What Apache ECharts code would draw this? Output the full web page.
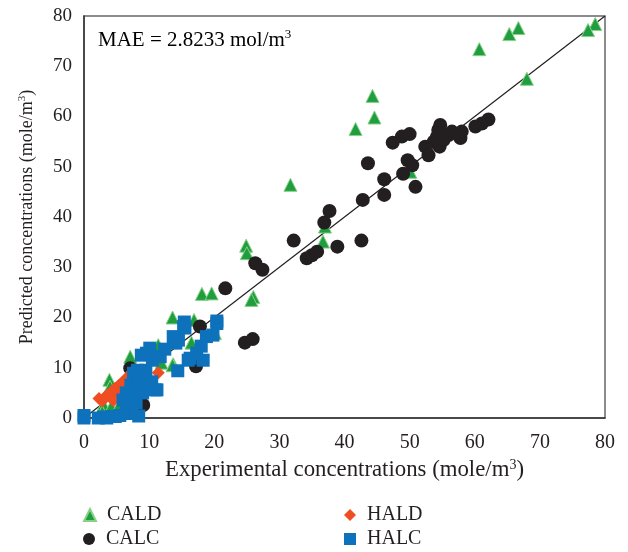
<!DOCTYPE html>
<html>
<head>
<meta charset="utf-8">
<script src="https://cdn.jsdelivr.net/npm/echarts@6/dist/echarts.min.js"></script>
<style>html,body{margin:0;padding:0;background:#fff}#c{width:628px;height:552px}</style>
</head>
<body>
<div id="c"></div>
<script>
const xTicks = [0,10,20,30,40,50,60,70,80];
const yTicks = [0,10,20,30,40,50,60,70,80];
const seriesNames = ['CALD','CALC','HALD','HALC'];
const diagonal = [[0,0],[80,80]];
const cald = [[78.5,78.4],[77.4,77.2],[66.7,77.6],[65.3,76.4],[60.7,73.4],[68.0,67.5],[44.3,64.1],[44.6,59.8],[41.7,57.5],[31.7,46.4],[50.1,49.0],[37.0,38.1],[36.7,35.1],[24.9,34.3],[25.0,32.8],[18.1,24.7],[19.6,24.8],[26.0,24.1],[25.7,23.5],[13.6,20.0],[16.9,19.5],[20.1,16.9],[16.5,15.0],[11.4,14.5],[7.1,12.2],[13.7,10.7],[11.9,11.0],[3.9,7.6],[4.0,6.2],[13.6,10.5],[3.0,2.6],[4.2,2.3],[2.8,1.2],[5.5,2.8],[6.0,1.5]];
const calc = [[26.3,30.8],[27.4,29.5],[32.2,35.3],[34.2,31.8],[35.0,32.4],[35.8,33.1],[38.9,34.1],[42.6,35.3],[36.9,38.9],[37.7,41.2],[42.8,43.4],[43.6,50.7],[46.1,47.5],[46.1,44.4],[47.4,54.8],[48.8,56.0],[50.0,56.5],[49.0,48.6],[49.7,51.3],[50.4,50.3],[50.9,46.0],[52.4,54.0],[52.9,52.3],[53.7,55.0],[54.2,56.0],[54.4,57.3],[54.7,58.3],[54.6,54.0],[55.2,55.3],[56.0,56.3],[56.5,57.0],[57.8,55.7],[58.0,57.0],[60.1,58.0],[61.1,58.6],[62.1,59.4],[21.7,25.8],[17.8,18.2],[24.7,15.0],[25.9,15.7],[17.2,10.3],[7.1,9.9],[9.1,2.6],[6.5,3.0]];
const hald = [[2.3,3.9],[2.8,3.4],[3.3,4.3],[3.8,4.8],[4.3,5.3],[4.8,5.9],[5.3,6.4],[5.8,7.0],[6.3,7.6],[6.8,8.3],[7.3,9.0],[7.8,9.6],[11.4,9.0],[7.0,1.0],[5.5,4.5],[6.0,5.5],[4.5,3.5]];
const halc = [[0,0],[0,0.5],[2.2,0],[3.0,0.2],[3.5,0],[4.2,0.3],[4.8,0.3],[5.5,0.5],[6.6,0.9],[8.4,0.4],[6.0,3.6],[6.5,2.5],[7.0,4.5],[7.5,5.5],[7.2,6.5],[7.8,7.5],[7.6,8.9],[8.2,9.5],[8.5,8.0],[9.1,6.9],[9.5,9.5],[9.6,12.9],[10.1,13.9],[10.5,11.5],[11.2,5.6],[11.7,12.2],[12.4,13.7],[13.7,16.2],[14.1,14.9],[14.4,9.4],[14.5,15.5],[15.3,18.2],[15.4,19.1],[15.5,17.9],[16.0,11.5],[16.3,11.9],[17.3,12.9],[18.0,14.3],[18.3,11.5],[18.8,16.2],[19.8,16.5],[20.4,18.8],[20.4,19.3],[8.0,3.0],[9.0,5.0],[8.8,12.5],[10.9,5.6],[10.4,7.2],[7.3,2.9],[6.5,5.0]];

const FONT = '"Liberation Serif", "DejaVu Serif", serif';
const TXT = '#231f20';
const chart = echarts.init(document.getElementById('c'), null, {renderer: 'canvas'});
function supRich(size) {
  return {
    n: {fontFamily: FONT, fontSize: size, color: TXT},
    s: {fontFamily: FONT, fontSize: Math.round(size * 0.62), color: TXT, verticalAlign: 'top', padding: [0,0,Math.round(size*0.5),0]}
  };
}
const axisCommon = {
  type: 'value', min: 0, max: 80, interval: 10,
  splitLine: {show: false},
  axisTick: {show: false},
  axisLine: {show: true, lineStyle: {color: '#333', width: 1.5}},
  nameLocation: 'middle'
};
const legendText = {fontFamily: FONT, fontSize: 20, color: TXT, lineHeight: 20, padding: [0,0,0,6]};
function oneLegend(name, left, top) {
  return {data: [name], left: left, top: top, itemWidth: 12, itemHeight: 12, padding: 0,
          textStyle: legendText};
}
chart.setOption({
  animation: false,
  backgroundColor: '#fff',
  grid: {left: 84, right: 23, top: 16, bottom: 134, show: true, borderColor: '#666', borderWidth: 1.5},
  xAxis: Object.assign({}, axisCommon, {
    name: '{n|Experimental concentrations (mole/m}{s|3}{n|)}', nameGap: 40,
    nameTextStyle: {rich: supRich(22.8)},
    axisLabel: {fontFamily: FONT, fontSize: 20, color: TXT, margin: 15}
  }),
  yAxis: Object.assign({}, axisCommon, {
    name: '{n|Predicted concentrations (mole/m}{s|3}{n|)}', nameGap: 47,
    nameTextStyle: {rich: supRich(18)},
    axisLabel: {fontFamily: FONT, fontSize: 19, color: TXT, margin: 12}
  }),
  legend: [
    oneLegend('CALD', 83, 505),
    oneLegend('CALC', 83, 529),
    oneLegend('HALD', 344, 505),
    oneLegend('HALC', 344, 529)
  ],
  graphic: [{
    type: 'text', left: 98, top: 28,
    style: {text: '{n|MAE = 2.8233 mol/m}{s|3}', rich: supRich(21)}
  }],
  series: [
    {type: 'line', data: diagonal, showSymbol: false, symbol: 'none', silent: true,
     lineStyle: {color: '#231f20', width: 1.2}, z: 1},
    {name: seriesNames[0], type: 'scatter', data: cald, symbol: 'triangle', symbolSize: 13,
     itemStyle: {color: '#1f9d3f', borderColor: '#86d186', borderWidth: 1, opacity: 1}, z: 2},
    {name: seriesNames[1], type: 'scatter', data: calc, symbol: 'circle', symbolSize: 14,
     itemStyle: {color: '#231f20', opacity: 1}, z: 3},
    {name: seriesNames[2], type: 'scatter', data: hald, symbol: 'diamond', symbolSize: 13,
     itemStyle: {color: '#f04d23', opacity: 1}, z: 4},
    {name: seriesNames[3], type: 'scatter', data: halc, symbol: 'rect', symbolSize: 13,
     itemStyle: {color: '#0d72bb', opacity: 1}, z: 5}
  ]
});
</script>
</body>
</html>
